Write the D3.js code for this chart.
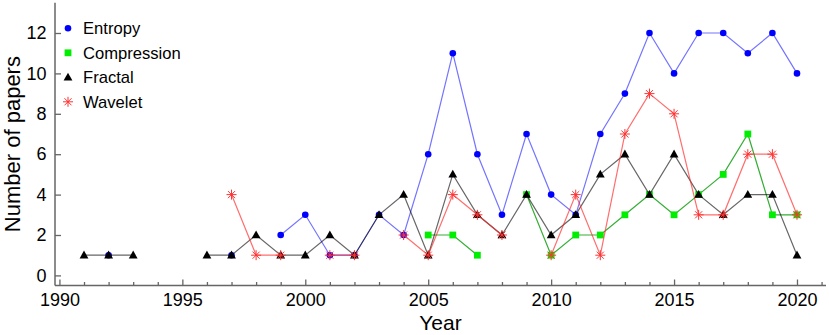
<!DOCTYPE html>
<html>
<head>
<meta charset="utf-8">
<title>Number of papers</title>
<script src="https://d3js.org/d3.v7.min.js"></script>
<style>
  body { margin: 0; background: #fff; }
  text { font-family: "Liberation Sans", Arial, sans-serif; fill: #000; }
</style>
</head>
<body>
<div id="view"></div>
<script>
var width = 829, height = 335;

var years = [1991, 1992, 1993, 1994, 1995, 1996, 1997, 1998, 1999, 2000,
             2001, 2002, 2003, 2004, 2005, 2006, 2007, 2008, 2009, 2010,
             2011, 2012, 2013, 2014, 2015, 2016, 2017, 2018, 2019, 2020];
var entropy = [null, 1, null, null, null, null, 1, null, 2, 3,
               1, 1, 3, 2, 6, 11, 6, 3, 7, 4,
               3, 7, 9, 12, 10, 12, 12, 11, 12, 10];
var compression = [null, null, null, null, null, null, null, null, null, null,
                   null, null, null, null, 2, 2, 1, null, 4, 1,
                   2, 2, 3, 4, 3, 4, 5, 7, 3, 3];
var fractal = [1, 1, 1, null, null, 1, 1, 2, 1, 1,
               2, 1, 3, 4, 1, 5, 3, 2, 4, 2,
               3, 5, 6, 4, 6, 4, 3, 4, 4, 1];
var wavelet = [null, null, null, null, null, null, 4, 1, 1, null,
               1, 1, null, 2, 1, 4, 3, 2, null, 1,
               4, 1, 7, 9, 8, 3, 3, 6, 6, 3];
var xTicks = [1990, 1995, 2000, 2005, 2010, 2015, 2020];
var xMinor = [1991, 1992, 1993, 1994, 1996, 1997, 1998, 1999, 2001, 2002, 2003, 2004,
              2006, 2007, 2008, 2009, 2011, 2012, 2013, 2014, 2016, 2017, 2018, 2019, 2021];
var yTicks = [0, 2, 4, 6, 8, 10, 12];

var series = [
  {name: "Entropy", values: entropy, marker: "circle", fill: "#0000ff", line: "#0000ff", op: 0.55},
  {name: "Compression", values: compression, marker: "square", fill: "#00ee00", line: "#009900", op: 0.8},
  {name: "Fractal", values: fractal, marker: "triangle", fill: "#000000", line: "#000000", op: 0.6},
  {name: "Wavelet", values: wavelet, marker: "star", fill: "#ff3333", line: "#ff2020", op: 0.65}
];

var svg = d3.select("#view").append("svg")
    .attr("width", width)
    .attr("height", height);

var x = d3.scaleLinear().domain([1989.82, 2021.18]).range([55, 826]);
var y = d3.scaleLinear().domain([-0.5, 13.5]).range([285.5, 2.7]);

// axes
var axisColor = "#666";
var gx = svg.append("g")
    .attr("transform", "translate(0," + y(-0.5) + ")")
    .call(d3.axisBottom(x).tickValues(xTicks).tickFormat(d3.format("d"))
      .tickSizeInner(-6).tickSizeOuter(0).tickPadding(8));
gx.select(".domain").remove();
gx.selectAll("line").attr("stroke", axisColor).attr("stroke-width", 1.3);
gx.selectAll("text").style("font-size", "18px").style("font-family", "Liberation Sans, Arial, sans-serif");

var gm = svg.append("g")
    .attr("transform", "translate(0," + y(-0.5) + ")")
    .call(d3.axisBottom(x).tickValues(xMinor).tickFormat("")
      .tickSizeInner(-3.5).tickSizeOuter(0));
gm.select(".domain").remove();
gm.selectAll("line").attr("stroke", axisColor).attr("stroke-width", 1.3);

var gy = svg.append("g")
    .attr("transform", "translate(" + x(1989.82) + ",0)")
    .call(d3.axisLeft(y).tickValues(yTicks)
      .tickSizeInner(-6).tickSizeOuter(0).tickPadding(8.5));
gy.select(".domain").remove();
gy.selectAll("line").attr("stroke", axisColor).attr("stroke-width", 1.3);
gy.selectAll("text").style("font-size", "18px").style("font-family", "Liberation Sans, Arial, sans-serif");

svg.append("line")
    .attr("x1", x(1989.82)).attr("x2", x(2021.18))
    .attr("y1", y(-0.5)).attr("y2", y(-0.5))
    .attr("stroke", axisColor).attr("stroke-width", 1.5);
svg.append("line")
    .attr("x1", x(1989.82)).attr("x2", x(1989.82))
    .attr("y1", y(-0.5)).attr("y2", y(13.5))
    .attr("stroke", axisColor).attr("stroke-width", 1.5);

svg.append("text")
    .attr("x", x(2005.5)).attr("y", 330)
    .attr("text-anchor", "middle")
    .style("font-size", "21px")
    .text("Year");
svg.append("text")
    .attr("transform", "translate(20," + y(6.5) + ") rotate(-90)")
    .attr("text-anchor", "middle")
    .style("font-size", "22px")
    .text("Number of papers");

function drawMarker(g, type, fill) {
  if (type === "circle") {
    g.append("circle").attr("r", 3.3).attr("fill", fill);
  } else if (type === "square") {
    g.append("rect").attr("x", -3.4).attr("y", -3.4).attr("width", 6.8).attr("height", 6.8).attr("fill", fill);
  } else if (type === "triangle") {
    g.append("path").attr("d", "M0,-4.6L4.4,3.2L-4.4,3.2Z").attr("fill", fill);
  } else {
    var r = 5;
    var d = "";
    [0, 45, 90, 135].forEach(function (a) {
      var t = a * Math.PI / 180;
      d += "M" + (-r * Math.cos(t)) + "," + (-r * Math.sin(t)) + "L" + (r * Math.cos(t)) + "," + (r * Math.sin(t));
    });
    g.append("path").attr("d", d).attr("stroke", fill).attr("stroke-width", 1).attr("fill", "none");
  }
}

var line = d3.line()
    .defined(function (d) { return d.v !== null; })
    .x(function (d) { return x(d.year); })
    .y(function (d) { return y(d.v); });

series.forEach(function (s) {
  var pts = years.map(function (yr, i) { return {year: yr, v: s.values[i]}; });
  var g = svg.append("g");
  g.append("path")
    .datum(pts)
    .attr("d", line)
    .attr("fill", "none")
    .attr("stroke", s.line)
    .attr("stroke-opacity", s.op)
    .attr("stroke-width", 1.2);
  pts.filter(function (d) { return d.v !== null; }).forEach(function (d) {
    var m = g.append("g").attr("transform", "translate(" + x(d.year) + "," + y(d.v) + ")");
    drawMarker(m, s.marker, s.fill);
  });
});

// legend
var legend = svg.append("g");
series.forEach(function (s, i) {
  var row = legend.append("g").attr("transform", "translate(68," + (28.3 + i * 24.5) + ")");
  drawMarker(row, s.marker, s.fill);
  row.append("text")
    .attr("x", 15).attr("dy", "0.35em")
    .style("font-size", "16.6px")
    .text(s.name);
});
</script>
</body>
</html>
